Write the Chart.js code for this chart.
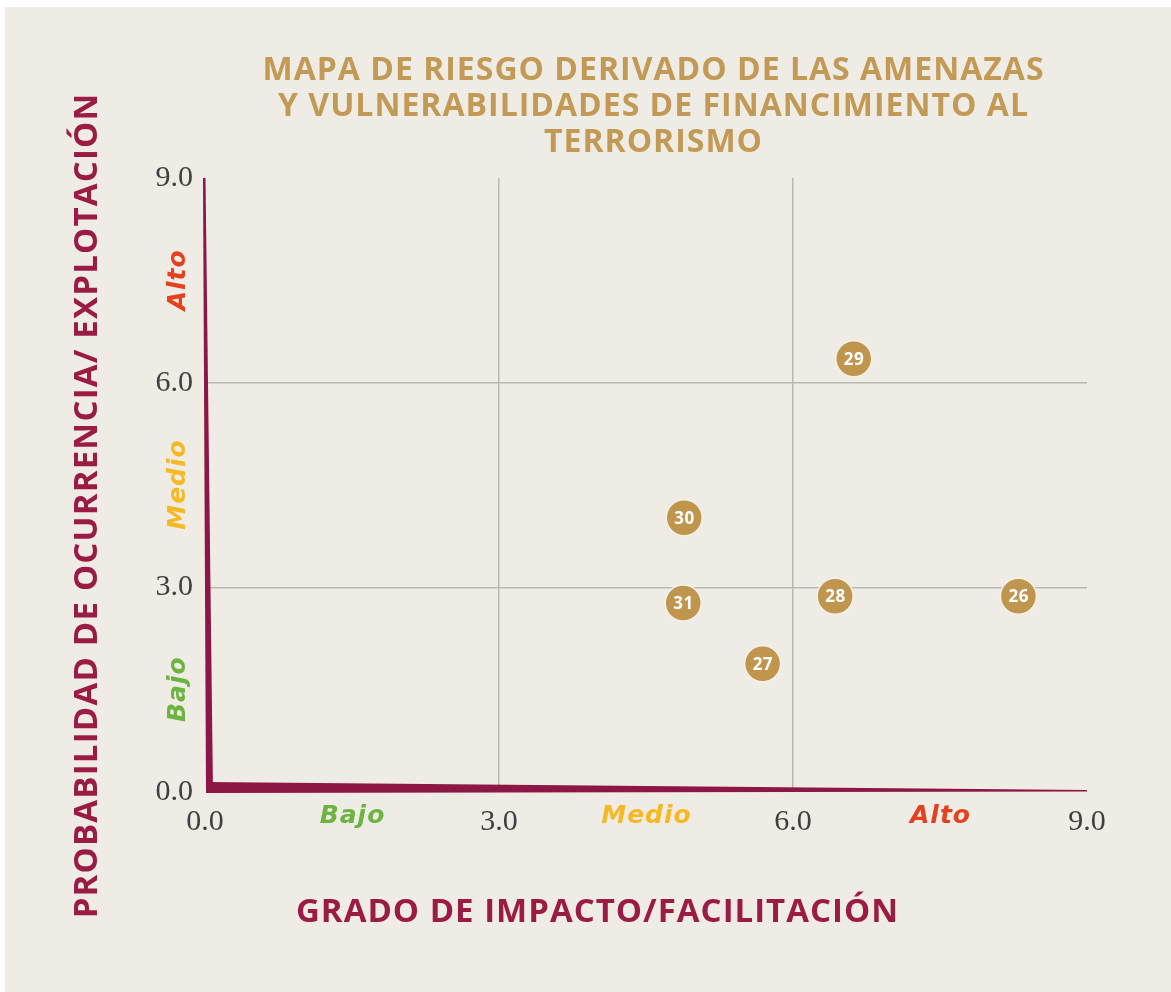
<!DOCTYPE html>
<html>
<head>
<meta charset="utf-8">
<title>Mapa de riesgo - financiamiento al terrorismo</title>
<script src="https://cdn.jsdelivr.net/npm/chart.js@4.4.1/dist/chart.umd.min.js"></script>
<style>
  html, body { margin: 0; padding: 0; background: #ffffff; }
  #riskChart { display: block; }
</style>
</head>
<body>
<canvas id="riskChart" width="1171" height="992"></canvas>
<script>
// Risk factors
const pointIds = ["26", "27", "28", "29", "30", "31"];
// Grado de impacto / facilitación (x)
const impactValues = [8.3, 5.69, 6.43, 6.62, 4.89, 4.88];
// Probabilidad de ocurrencia / explotación (y)
const probabilityValues = [2.87, 1.88, 2.87, 6.35, 4.02, 2.77];

// Axis range and the three bands
const axisTicks = [0, 3, 6, 9];
const levelLabels = ["Bajo", "Medio", "Alto"];
const levelCenters = [1.5, 4.5, 7.5];

const titleLines = [
  "MAPA DE RIESGO DERIVADO DE LAS AMENAZAS",
  "Y VULNERABILIDADES DE FINANCIMIENTO AL",
  "TERRORISMO",
];
const xAxisTitle = "GRADO DE IMPACTO/FACILITACIÓN";
const yAxisTitle = "PROBABILIDAD DE OCURRENCIA/ EXPLOTACIÓN";

// Colours
const bgBeige = "#EFECE6";
const maroon = "#8C1644";
const axisTitleColor = "#9A1C45";
const gold = "#C29A56";
const pointGold = "#C0964F";
const levelColors = ["#6CB33F", "#F6B823", "#E5411E"];
const tickColor = "#404040";

const sansFamily = "'Open Sans', 'DejaVu Sans', sans-serif";
const wideFamily = "'DejaVu Sans', 'Open Sans', sans-serif";
const serifFamily = "'Liberation Serif', 'DejaVu Serif', serif";

const points = impactValues.map((x, i) => ({ x: x, y: probabilityValues[i] }));

// Only the inner lines (3 and 6) are drawn as grid
function gridColor(ctx) {
  const v = ctx.tick && ctx.tick.value;
  return v === 3 || v === 6 ? "#b9b8b4" : "rgba(0,0,0,0)";
}

// Draw centered text with extra letter spacing (keeps it centered)
function spacedText(ctx, text, x, y, spacing) {
  ctx.letterSpacing = spacing + "px";
  ctx.fillText(text, x + spacing / 2, y);
  ctx.letterSpacing = "0px";
}

/* ----------------------------
    Decorations: background, tapered axes, labels inside the dots, titles
---------------------------- */
const riskDecor = {
  id: "riskDecor",
  beforeDraw(chart) {
    const { ctx, width, height } = chart;
    ctx.save();
    ctx.fillStyle = "#ffffff";
    ctx.fillRect(0, 0, width, height);
    ctx.fillStyle = bgBeige;
    ctx.fillRect(5, 7, width - 5, height - 7);
    ctx.restore();
  },
  beforeDatasetsDraw(chart) {
    const { ctx, scales } = chart;
    const x0 = scales.x.getPixelForValue(0);
    const x9 = scales.x.getPixelForValue(9);
    const y0 = scales.y.getPixelForValue(0);
    const y9 = scales.y.getPixelForValue(9);
    ctx.save();
    ctx.fillStyle = maroon;
    // vertical wedge, thin at the top
    ctx.beginPath();
    ctx.moveTo(x0 - 2, y9);
    ctx.lineTo(x0 + 0.5, y9);
    ctx.lineTo(x0 + 8, y0 + 1);
    ctx.lineTo(x0 + 1, y0 + 1);
    ctx.closePath();
    ctx.fill();
    // horizontal wedge, thin at the right
    ctx.beginPath();
    ctx.moveTo(x0 + 1, y0 - 10);
    ctx.lineTo(x9, y0 - 2);
    ctx.lineTo(x9, y0 - 0.5);
    ctx.lineTo(x0 + 1, y0 + 1);
    ctx.closePath();
    ctx.fill();
    ctx.restore();
  },
  afterDatasetsDraw(chart) {
    const { ctx } = chart;
    const meta = chart.getDatasetMeta(0);
    ctx.save();
    ctx.fillStyle = "#ffffff";
    ctx.font = "bold 17px " + sansFamily;
    ctx.textAlign = "center";
    ctx.textBaseline = "middle";
    meta.data.forEach((pt, i) => {
      spacedText(ctx, pointIds[i], pt.x, pt.y + 1, 0.5);
    });
    ctx.restore();
  },
  afterDraw(chart) {
    const { ctx, scales } = chart;
    ctx.save();
    ctx.textAlign = "center";
    ctx.textBaseline = "middle";

    // chart title
    ctx.fillStyle = gold;
    ctx.font = "bold 32px " + sansFamily;
    titleLines.forEach((line, i) => {
      spacedText(ctx, line, 653, 71 + i * 36, 1);
    });

    // band labels along both axes
    ctx.font = "italic bold 25px " + wideFamily;
    levelLabels.forEach((lbl, i) => {
      ctx.fillStyle = levelColors[i];
      spacedText(ctx, lbl, scales.x.getPixelForValue(levelCenters[i]), 816, 1);
      ctx.save();
      ctx.translate(178, scales.y.getPixelForValue(levelCenters[i]));
      ctx.rotate(-Math.PI / 2);
      spacedText(ctx, lbl, 0, 0, 1);
      ctx.restore();
    });

    // axis titles
    ctx.fillStyle = axisTitleColor;
    ctx.font = "bold 33px " + sansFamily;
    spacedText(ctx, xAxisTitle, 597, 913, 1);
    ctx.save();
    ctx.translate(88, 506);
    ctx.rotate(-Math.PI / 2);
    spacedText(ctx, yAxisTitle, 0, 0, 1.2);
    ctx.restore();

    ctx.restore();
  },
};

const tickOptions = {
  stepSize: 3,
  autoSkip: false,
  padding: 12,
  color: tickColor,
  font: { family: serifFamily, size: 30 },
  callback: (v) => (axisTicks.includes(v) ? v.toFixed(1) : ""),
};

const config = {
  type: "scatter",
  data: {
    datasets: [
      {
        label: "Factores de riesgo",
        data: points,
        backgroundColor: pointGold,
        borderColor: "#f6f1e6",
        borderWidth: 1.5,
        pointRadius: 18,
        pointHoverRadius: 18,
      },
    ],
  },
  options: {
    responsive: false,
    animation: false,
    layout: { padding: { top: 178, right: 84, bottom: 0, left: 145 } },
    plugins: {
      legend: { display: false },
      tooltip: { enabled: false },
    },
    scales: {
      x: {
        type: "linear",
        min: 0,
        max: 9,
        ticks: tickOptions,
        border: { display: false },
        grid: { color: gridColor, lineWidth: 1.5, drawTicks: false },
        afterFit(scale) {
          scale.height = 200;
        },
      },
      y: {
        type: "linear",
        min: 0,
        max: 9,
        ticks: tickOptions,
        border: { display: false },
        grid: { color: gridColor, lineWidth: 1.5, drawTicks: false },
        afterFit(scale) {
          scale.width = 60;
        },
      },
    },
  },
  plugins: [riskDecor],
};

const ctx = document.getElementById("riskChart").getContext("2d");
const riskChart = new Chart(ctx, config);
</script>
</body>
</html>
